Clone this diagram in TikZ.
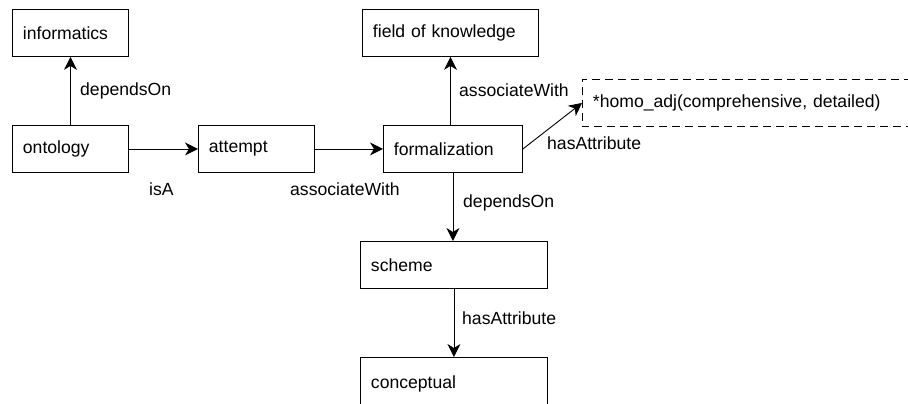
\documentclass[tikz,border=0pt]{standalone}
\usepackage{fontspec}
\setmainfont{Liberation Sans}
\usetikzlibrary{arrows.meta}
\tikzset{
  concept/.style={draw, line width=0.9pt, minimum height=47pt, inner xsep=10.5pt, inner ysep=0pt, align=left, anchor=north west},
  relation/.style={-{Stealth[length=13pt,width=13pt,inset=4pt]}, line width=0.9pt},
  rellabel/.style={inner sep=0pt, anchor=west},
}
\begin{document}
\begin{tikzpicture}[x=1pt,y=-1pt,font=\fontsize{17.6}{20}\selectfont]
            \useasboundingbox (0,0) rectangle (908,404);
            % concepts
            \node[concept, text width=95pt] (informatics) at (12,9) {informatics};
            \node[concept, text width=95pt] (ontology) at (12,125) {ontology};
            \node[concept, text width=95pt] (attempt) at (198,125) {attempt};
            \node[concept, text width=118pt] (formalization) at (383,125) {formalization};
            \node[concept, text width=155pt] (field) at (362,9) {field of knowledge};
            \node[concept, draw=none, text width=360pt] (attr) at (582,79) {*homo\_adj(comprehensive, detailed)};
            \draw[line width=0.9pt, dash pattern=on 8pt off 5pt] (attr.north east) -- (attr.north west) -- (attr.south west) -- (attr.south east);
            \node[concept, text width=166pt] (scheme) at (360,241) {scheme};
            \node[concept, text width=166pt, minimum height=52pt] (conceptual) at (360,357) {conceptual};
            % relations
            \draw[relation] (ontology) -- (informatics);
            \draw[relation] (ontology) -- (attempt);
            \draw[relation] (attempt) -- (formalization);
            \draw[relation] (field.south |- formalization.north) -- (field.south);
            \draw[relation] (formalization.east) -- (attr.west);
            \draw[relation] (formalization.south) -- (formalization.south |- scheme.north);
            \draw[relation] (scheme) -- (conceptual);
            % labels
            \node[rellabel] (l1) at (80,91) {dependsOn};
            \node[rellabel] (l2) at (149,189) {isA};
            \node[rellabel] (l3) at (290,189) {associateWith};
            \node[rellabel] (l4) at (459,90) {associateWith};
            \node[rellabel] (l5) at (547,143) {hasAttribute};
            \node[rellabel] (l6) at (463,203) {dependsOn};
            \node[rellabel] (l7) at (462,318) {hasAttribute};
        \end{tikzpicture}
\end{document}
